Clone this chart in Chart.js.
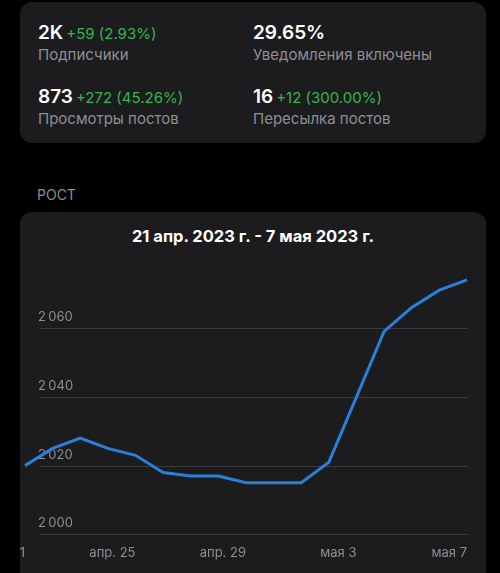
<!DOCTYPE html>
<html>
<head>
<meta charset="utf-8">
<script src="https://cdn.jsdelivr.net/npm/chart.js@4"></script>
<style>
  html, body { margin: 0; padding: 0; background: #000; width: 500px; height: 573px; overflow: hidden; font-family: Inter, "Noto Sans", sans-serif; }
  .card { position: absolute; left: 20px; width: 466px; background: #1c1c1e; border-radius: 12px; overflow: hidden; }
  .stats { top: 2px; height: 141px; }
  .stat { position: absolute; white-space: nowrap; }
  .val { color: #fff; font-size: 19px; font-weight: 600; line-height: 22px; }
  .val span { color: #36b44c; font-size: 15px; font-weight: 400; margin-left: 3px; }
  .lbl { color: #8e8e93; font-size: 15px; line-height: 18px; }
  .section { position: absolute; left: 37px; top: 186px; color: #8e8e93; font-size: 14px; line-height: 18px; }
  .chartcard { top: 212px; height: 400px; }
  .title { position: absolute; left: 0; right: 0; top: 14px; text-align: center; color: #fff; font-size: 16.5px; font-weight: 700; line-height: 20px; }
  .wrap { position: absolute; left: 0; top: 43px; width: 466px; height: 318px; }
</style>
</head>
<body>
<div class="card stats">
  <div class="stat val" style="left:18px;top:20px">2K<span>+59 (2.93%)</span></div>
  <div class="stat lbl" style="left:18px;top:44px">Подписчики</div>
  <div class="stat val" style="left:233px;top:20px">29.65%</div>
  <div class="stat lbl" style="left:233px;top:44px">Уведомления включены</div>
  <div class="stat val" style="left:18px;top:84px">873<span>+272 (45.26%)</span></div>
  <div class="stat lbl" style="left:18px;top:108px">Просмотры постов</div>
  <div class="stat val" style="left:233px;top:84px">16<span>+12 (300.00%)</span></div>
  <div class="stat lbl" style="left:233px;top:108px">Пересылка постов</div>
</div>
<div class="section">РОСТ</div>
<div class="card chartcard">
  <div class="title">21 апр. 2023 г. - 7 мая 2023 г.</div>
  <div class="wrap"><canvas id="growth"></canvas></div>
</div>
<script>
const days = ['апр. 21', 'апр. 22', 'апр. 23', 'апр. 24', 'апр. 25', 'апр. 26', 'апр. 27', 'апр. 28', 'апр. 29', 'апр. 30',
              'мая 1', 'мая 2', 'мая 3', 'мая 4', 'мая 5', 'мая 6', 'мая 7'];
const subscribers = [2020, 2025, 2028, 2025, 2023, 2018, 2017, 2017, 2015, 2015, 2015, 2021, 2040, 2059, 2066, 2071, 2074];
const yTicks = [2000, 2020, 2040, 2060];

// horizontal grid lines start under the labels, not at the plot edge
const gridLines = {
    id: 'gridLines',
    beforeDatasetsDraw(chart) {
        const y = chart.scales.y;
        const c = chart.ctx;
        c.save();
        c.strokeStyle = '#3a3a3c';
        c.lineWidth = 1;
        yTicks.forEach(v => {
            const py = Math.round(y.getPixelForValue(v)) + 0.5;
            c.beginPath();
            c.moveTo(20, py);
            c.lineTo(chart.chartArea.right + 1, py);
            c.stroke();
        });
        c.restore();
    }
};

const ctx = document.getElementById('growth').getContext('2d');
new Chart(ctx, {
    type: 'line',
    data: {
        labels: days,
        datasets: [{
            data: subscribers,
            borderColor: '#2a7fd8',
            borderWidth: 3,
            pointRadius: 0,
            tension: 0,
            clip: 4
        }]
    },
    options: {
        responsive: true,
        maintainAspectRatio: false,
        animation: false,
        layout: { padding: { left: 5, right: 19, top: 18, bottom: 1 } },
        plugins: { legend: { display: false }, tooltip: { enabled: false } },
        scales: {
            x: {
                grid: { display: false, drawTicks: false },
                border: { display: false },
                afterFit(scale) { scale.paddingLeft = 0; scale.paddingRight = 0; },
                ticks: {
                    autoSkip: false,
                    maxRotation: 0,
                    align: 'end',
                    padding: 11,
                    color: '#8e8e93',
                    font: { family: 'Inter', size: 13 },
                    callback: (v, i) => i % 4 === 0 ? days[i] : ''
                }
            },
            y: {
                min: 2000,
                max: 2076,
                grid: { display: false, drawTicks: false },
                border: { display: false },
                afterBuildTicks(scale) { scale.ticks = yTicks.map(v => ({ value: v })); },
                afterFit(scale) { scale.width = 0; scale.paddingTop = 0; scale.paddingBottom = 0; },
                ticks: {
                    mirror: true,
                    padding: 13,
                    labelOffset: -11,
                    color: '#8e8e93',
                    font: { family: 'Inter', size: 13 },
                    callback: v => String(v).replace(/\B(?=(\d{3})+(?!\d))/g, '\u2009')
                }
            }
        }
    },
    plugins: [gridLines]
});
</script>
</body>
</html>
